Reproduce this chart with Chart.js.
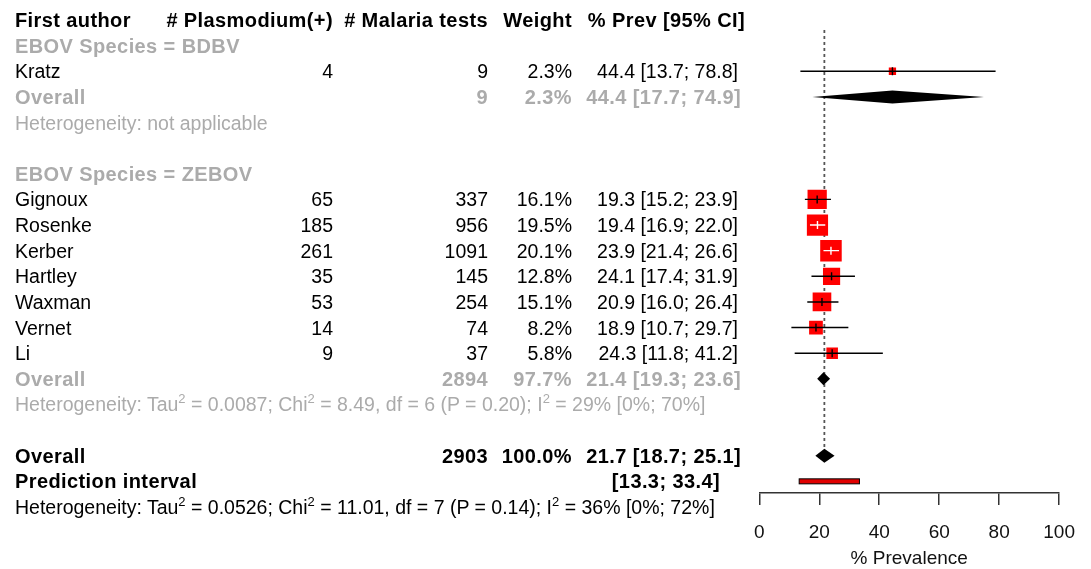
<!DOCTYPE html>
<html><head><meta charset="utf-8">
<script src="https://cdn.jsdelivr.net/npm/chart.js@4.4.1/dist/chart.umd.min.js"></script>
<style>
html,body{margin:0;padding:0;background:#fff;}
#wrap{position:relative;width:1091px;height:569px;overflow:hidden;font-family:"Liberation Sans",Arial,sans-serif;}
canvas{position:absolute;left:0;top:0;}
.t{position:absolute;white-space:nowrap;font-size:19.5px;line-height:24px;color:#000;}
.b{font-weight:bold;font-size:20px;letter-spacing:0.4px;}
.g{color:#ababab;}
.t sup{font-size:13px;line-height:0;vertical-align:0;position:relative;top:-8px;}
</style></head>
<body><div id="wrap"><canvas id="c" width="1091" height="569"></canvas></div>
<script>
// ---------- data ----------
const headers = ['First author', '# Plasmodium(+)', '# Malaria tests', 'Weight', '% Prev [95% CI]'];
const groupNames = ['BDBV', 'ZEBOV'];
const studyGroup = [0, 1, 1, 1, 1, 1, 1, 1];
const authors = ['Kratz', 'Gignoux', 'Rosenke', 'Kerber', 'Hartley', 'Waxman', 'Vernet', 'Li'];
const positives = [4, 65, 185, 261, 35, 53, 14, 9];
const tests = [9, 337, 956, 1091, 145, 254, 74, 37];
const weights = [2.3, 16.1, 19.5, 20.1, 12.8, 15.1, 8.2, 5.8];
const prev = [44.4, 19.3, 19.4, 23.9, 24.1, 20.9, 18.9, 24.3];
const lower = [13.7, 15.2, 16.9, 21.4, 17.4, 16.0, 10.7, 11.8];
const upper = [78.8, 23.9, 22.0, 26.6, 31.9, 26.4, 29.7, 41.2];

const groupTests = [9, 2894];
const groupWeights = [2.3, 97.7];
const groupPrev = [44.4, 21.4];
const groupLower = [17.7, 19.3];
const groupUpper = [74.9, 23.6];
const groupHet = [
  'Heterogeneity: not applicable',
  'Heterogeneity: Tau<sup>2</sup> = 0.0087; Chi<sup>2</sup> = 8.49, df = 6 (P = 0.20); I<sup>2</sup> = 29% [0%; 70%]'
];

const overallTests = 2903;
const overallWeight = 100.0;
const overallPrev = 21.7;
const overallLower = 18.7;
const overallUpper = 25.1;
const predLower = 13.3;
const predUpper = 33.4;
const overallHet = 'Heterogeneity: Tau<sup>2</sup> = 0.0526; Chi<sup>2</sup> = 11.01, df = 7 (P = 0.14); I<sup>2</sup> = 36% [0%; 72%]';

const xTicks = [0, 20, 40, 60, 80, 100];
const xTitle = '% Prevalence';

// ---------- row layout ----------
const ROW0 = 20, ROWH = 25.63;
const studyRow = [];
const groupHeadRows = [];
const groupSumRow = [];
let r = 1;
groupNames.forEach((g, gi) => {
  groupHeadRows[gi] = r; r++;
  authors.forEach((a, i) => { if (studyGroup[i] === gi) { studyRow[i] = r; r++; } });
  groupSumRow[gi] = r; r += 3; // summary, heterogeneity, blank
});
const overallRow = r;          // 17
const predRow = r + 1;         // 18
const hetRow = r + 2;          // 19

// ---------- text ----------
const wrap = document.getElementById('wrap');
const COL_LEFT = 15, COL_POS = 333, COL_TESTS = 488, COL_W = 572, COL_CI = 738, COL_CI_B = 741, COL_HDR = 745;
function txt(html, row, opt) {
  const d = document.createElement('div');
  d.className = 't ' + (opt.cls || '');
  d.innerHTML = html;
  d.style.top = (ROW0 + ROWH * row - 12) + 'px';
  if (opt.right !== undefined) d.style.right = (1091 - opt.right) + 'px';
  else d.style.left = opt.left + 'px';
  wrap.appendChild(d);
}
const f1 = v => v.toFixed(1);
const ci = (p, l, u) => f1(p) + ' [' + f1(l) + '; ' + f1(u) + ']';

txt(headers[0], 0, { left: COL_LEFT, cls: 'b' });
txt(headers[1], 0, { right: COL_POS, cls: 'b' });
txt(headers[2], 0, { right: COL_TESTS, cls: 'b' });
txt(headers[3], 0, { right: COL_W, cls: 'b' });
txt(headers[4], 0, { right: COL_HDR, cls: 'b' });

groupNames.forEach((g, gi) => {
  txt('EBOV Species = ' + g, groupHeadRows[gi], { left: COL_LEFT, cls: 'b g' });
  const sr = groupSumRow[gi];
  txt('Overall', sr, { left: COL_LEFT, cls: 'b g' });
  txt(String(groupTests[gi]), sr, { right: COL_TESTS, cls: 'b g' });
  txt(f1(groupWeights[gi]) + '%', sr, { right: COL_W, cls: 'b g' });
  txt(ci(groupPrev[gi], groupLower[gi], groupUpper[gi]), sr, { right: COL_CI_B, cls: 'b g' });
  txt(groupHet[gi], sr + 1, { left: COL_LEFT, cls: 'g' });
});
authors.forEach((a, i) => {
  const row = studyRow[i];
  txt(a, row, { left: COL_LEFT });
  txt(String(positives[i]), row, { right: COL_POS });
  txt(String(tests[i]), row, { right: COL_TESTS });
  txt(f1(weights[i]) + '%', row, { right: COL_W });
  txt(ci(prev[i], lower[i], upper[i]), row, { right: COL_CI });
});
txt('Overall', overallRow, { left: COL_LEFT, cls: 'b' });
txt(String(overallTests), overallRow, { right: COL_TESTS, cls: 'b' });
txt(f1(overallWeight) + '%', overallRow, { right: COL_W, cls: 'b' });
txt(ci(overallPrev, overallLower, overallUpper), overallRow, { right: COL_CI_B, cls: 'b' });
txt('Prediction interval', predRow, { left: COL_LEFT, cls: 'b' });
txt('[' + f1(predLower) + '; ' + f1(predUpper) + ']', predRow, { right: 720, cls: 'b' });
txt(overallHet, hetRow, { left: COL_LEFT });

// ---------- chart ----------
const SQ = 4.8; // square side per sqrt(weight)
const sideOf = w => SQ * Math.sqrt(w);

const forestPlugin = {
  id: 'forest',
  afterDatasetsDraw(chart) {
    const { ctx, scales: { x, y } } = chart;
    ctx.save();
    // study CIs and estimate ticks
    authors.forEach((a, i) => {
      const py = y.getPixelForValue(studyRow[i]);
      const x0 = x.getPixelForValue(lower[i]), x1 = x.getPixelForValue(upper[i]), xm = x.getPixelForValue(prev[i]);
      const half = sideOf(weights[i]) / 2;
      const inside = x0 >= xm - half && x1 <= xm + half;
      ctx.strokeStyle = inside ? '#ffffff' : '#000000';
      ctx.lineWidth = 1.4;
      ctx.beginPath();
      ctx.moveTo(x0, py); ctx.lineTo(x1, py);
      ctx.moveTo(xm, py - 4); ctx.lineTo(xm, py + 4);
      ctx.stroke();
    });
    // diamonds
    const diamond = (p, l, u, row, hh) => {
      const py = y.getPixelForValue(row);
      ctx.beginPath();
      ctx.moveTo(x.getPixelForValue(l), py);
      ctx.lineTo(x.getPixelForValue(p), py - hh);
      ctx.lineTo(x.getPixelForValue(u), py);
      ctx.lineTo(x.getPixelForValue(p), py + hh);
      ctx.closePath();
      ctx.fillStyle = '#000';
      ctx.fill();
    };
    groupNames.forEach((g, gi) => diamond(groupPrev[gi], groupLower[gi], groupUpper[gi], groupSumRow[gi], 6.5));
    diamond(overallPrev, overallLower, overallUpper, overallRow, 7);
    // prediction interval
    const py = y.getPixelForValue(predRow);
    const px0 = x.getPixelForValue(predLower), px1 = x.getPixelForValue(predUpper);
    ctx.fillStyle = '#e00000';
    ctx.fillRect(px0, py - 2.5, px1 - px0, 5);
    ctx.strokeStyle = '#000'; ctx.lineWidth = 1;
    ctx.strokeRect(px0, py - 2.5, px1 - px0, 5);
    ctx.restore();
  }
};

Chart.defaults.font.family = '"Liberation Sans", Arial, sans-serif';
new Chart(document.getElementById('c'), {
  type: 'scatter',
  data: {
    datasets: [
      {
        type: 'line',
        data: [{ x: overallPrev, y: 0.39 }, { x: overallPrev, y: overallRow }],
        borderColor: '#555', borderDash: [3, 3], borderWidth: 1.8,
        pointRadius: 0, fill: false, order: 10
      },
      {
        type: 'scatter',
        data: authors.map((a, i) => ({ x: prev[i], y: studyRow[i] })),
        pointStyle: 'rect',
        pointRadius: weights.map(w => sideOf(w) / Math.SQRT2),
        backgroundColor: '#ff0000', borderWidth: 0, order: 5
      }
    ]
  },
  options: {
    responsive: false, animation: false, devicePixelRatio: 1,
    events: [],
    plugins: { legend: { display: false }, tooltip: { enabled: false } },
    layout: { autoPadding: false, padding: { left: 759.3, right: 30, top: 0, bottom: 0 } },
    scales: {
      x: {
        type: 'linear', min: 0, max: 100, position: 'bottom',
        afterBuildTicks: s => { s.ticks = xTicks.map(v => ({ value: v })); },
        afterFit: s => { s.height = 76; },
        ticks: { color: '#111', font: { size: 19 }, padding: 16, maxRotation: 0 },
        grid: { drawOnChartArea: false, drawTicks: true, tickLength: 12, color: '#333', lineWidth: 1.5 },
        border: { display: true, color: '#333', width: 1.5 },
        title: { display: true, text: xTitle, color: '#111', font: { size: 19, lineHeight: 1.1 }, padding: { top: 0, bottom: 0 } }
      },
      y: { type: 'linear', display: false, min: -0.78, max: 18.455, reverse: true }
    }
  },
  plugins: [forestPlugin]
});
</script>
</body></html>
